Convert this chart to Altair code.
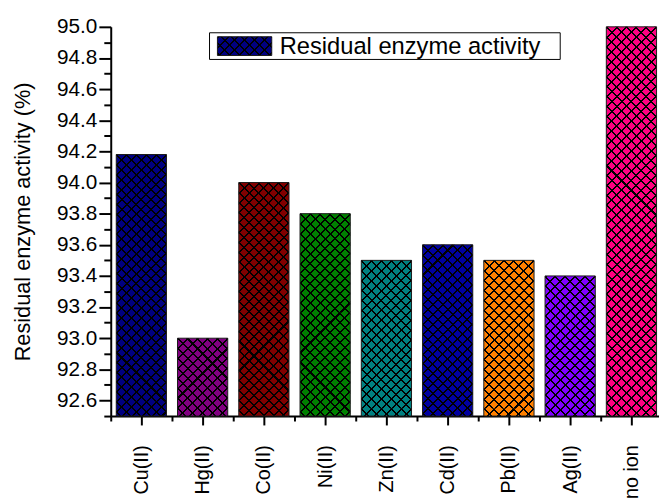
import json
import math

import altair as alt
import pandas as pd

# ---------------- data ----------------
categories = ["Cu(II)", "Hg(II)", "Co(II)", "Ni(II)", "Zn(II)", "Cd(II)", "Pb(II)", "Ag(II)", "no ion"]
activity = [94.18, 93.0, 94.0, 93.8, 93.5, 93.6, 93.5, 93.4, 95.0]
bar_colors = ["#000080", "#800080", "#800000", "#008000", "#008080",
              "#0000A0", "#FF8000", "#8000FF", "#FF0080"]
y_tick_values = [92.5, 92.6, 92.7, 92.8, 92.9, 93.0, 93.1, 93.2, 93.3, 93.4, 93.5,
                 93.6, 93.7, 93.8, 93.9, 94.0, 94.1, 94.2, 94.3, 94.4, 94.5,
                 94.6, 94.7, 94.8, 94.9, 95.0]
x_tick_values = [-0.5, 0, 0.5, 1, 1.5, 2, 2.5, 3, 3.5, 4, 4.5, 5, 5.5, 6, 6.5, 7, 7.5, 8]
y_title = "Residual enzyme activity (%)"
legend_label = ["Residual enzyme activity"]

# ---------------- layout / style ----------------
PLOT_W, PLOT_H = 555, 394
X_DOMAIN = [-0.5, 8.45]
Y_DOMAIN = [92.5, 95.0]
BAR_HALF = 0.41
FONT = "Liberation Sans"
BAR_W_PX = 2 * BAR_HALF * PLOT_W / (X_DOMAIN[1] - X_DOMAIN[0])
PX_PER_UNIT = PLOT_H / (Y_DOMAIN[1] - Y_DOMAIN[0])
HATCH_PERIOD = 10 / math.sqrt(2)   # 10 px horizontal repeat
HATCH_LW = 1.45
CHUNK_PX = 50                      # hatch drawn in 50 px tall tiles (multiple of 10)


def hatch(w, h, direction, period=HATCH_PERIOD, lw=HATCH_LW):
    """Linear gradient (bbox units) producing 45-degree stripes in pixel space."""
    r = h / w
    a = (1 + r) / (1 + r * r)
    if direction == 1:
        x1, y1, x2, y2 = 0, 0, a, a * r
    else:
        x1, y1, x2, y2 = 1, 0, 1 - a, a * r
    n = (w + h) / math.sqrt(2) / period
    f = lw / period
    clear, ink = "rgba(0,0,0,0)", "#000000"
    stops = []
    k = 0
    while k / n < 1:
        t0 = round(k / n, 6)
        t1 = round(min((k + f) / n, 1.0), 6)
        stops += [{"offset": t0, "color": clear}, {"offset": t0, "color": ink},
                  {"offset": t1, "color": ink}, {"offset": t1, "color": clear}]
        k += 1
    return {"gradient": "linear", "x1": x1, "y1": y1, "x2": x2, "y2": y2, "stops": stops}


df = pd.DataFrame({"ion": categories, "activity": activity,
                   "pos": list(range(len(categories)))})

# hatch tiles: split every bar (from its top down) into 50 px tiles + one remainder
chunk_units = CHUNK_PX / PX_PER_UNIT
full_rows, rest_rows = [], []
for i, v in enumerate(activity):
    top = v
    while top - chunk_units >= Y_DOMAIN[0] - 1e-9:
        full_rows.append({"pos": i, "top": top, "bottom": top - chunk_units})
        top -= chunk_units
    if top - Y_DOMAIN[0] > 1e-6:
        rest_rows.append({"pos": i, "top": top, "bottom": Y_DOMAIN[0]})
full_df = pd.DataFrame(full_rows)

x_scale = alt.Scale(domain=X_DOMAIN, nice=False, zero=False)
y_scale = alt.Scale(domain=Y_DOMAIN, nice=False, zero=False)

x_label_expr = ("datum.value % 1 == 0 ? " + json.dumps(categories) +
                "[round(datum.value)] : ''")
x_axis = alt.Axis(
    values=x_tick_values, labelExpr=x_label_expr, title=None, grid=False,
    tickSize={"condition": {"test": "datum.value % 1 == 0", "value": 9}, "value": 5},
    tickWidth=2, tickColor="black", domainWidth=2, domainColor="black",
    labelAngle=270, labelAlign="right", labelBaseline="middle",
    labelFont=FONT, labelFontSize=20, labelColor="black", labelPadding=20,
    labelOverlap=False, labelFlush=False,
)
y_axis = alt.Axis(
    values=y_tick_values,
    labelExpr="round(datum.value * 10) % 2 == 0 ? format(datum.value, '.1f') : ''",
    tickSize={"condition": {"test": "round(datum.value * 10) % 2 == 0", "value": 12}, "value": 7},
    tickWidth=2, tickColor="black", domainWidth=2, domainColor="black", grid=False,
    labelFont=FONT, labelFontSize=21, labelColor="black", labelPadding=2,
    labelOverlap=False, labelFlush=False,
    title=y_title, titleFont=FONT, titleFontSize=22, titleFontWeight="normal",
    titleColor="black", titleX=-89, titleY=PLOT_H / 2, titleAngle=270,
    titleAlign="center", titleBaseline="middle",
)

X_ENC = alt.X("lo:Q", scale=x_scale, axis=x_axis)
CALC = dict(lo=f"datum.pos - {BAR_HALF}", hi=f"datum.pos + {BAR_HALF}")

base = alt.Chart(df).transform_calculate(**CALC)

layers = [
    base.mark_rect().encode(
        x=X_ENC, x2="hi:Q",
        y=alt.Y("activity:Q", scale=y_scale, axis=y_axis), y2=alt.value(PLOT_H),
        fill=alt.Fill("ion:N", scale=alt.Scale(domain=categories, range=bar_colors), legend=None),
    )
]

# full tiles share one gradient per direction
for d in (1, 2):
    layers.append(
        alt.Chart(full_df).transform_calculate(**CALC)
        .mark_rect(fill=hatch(BAR_W_PX, CHUNK_PX, d))
        .encode(x=X_ENC, x2="hi:Q",
                y=alt.Y("top:Q", scale=y_scale, axis=y_axis), y2="bottom:Q")
    )

# remainder tiles at the bottom of each bar
for row in rest_rows:
    h_px = (row["top"] - row["bottom"]) * PX_PER_UNIT
    for d in (1, 2):
        layers.append(
            alt.Chart(pd.DataFrame([row])).transform_calculate(**CALC)
            .mark_rect(fill=hatch(BAR_W_PX, h_px, d))
            .encode(x=X_ENC, x2="hi:Q",
                    y=alt.Y("top:Q", scale=y_scale, axis=y_axis), y2="bottom:Q")
        )

layers.append(
    base.mark_rect(fillOpacity=0, stroke="#1a1a1a", strokeWidth=1).encode(
        x=X_ENC, x2="hi:Q",
        y=alt.Y("activity:Q", scale=y_scale, axis=y_axis), y2=alt.value(PLOT_H))
)

# ---------------- legend (drawn manually) ----------------
leg_df = pd.DataFrame({"label": legend_label})
leg = alt.Chart(leg_df)
layers.append(leg.mark_rect(fill="white", stroke="black", strokeWidth=1).encode(
    x=alt.value(100), x2=alt.value(455), y=alt.value(6), y2=alt.value(33)))
layers.append(leg.mark_rect(fill=bar_colors[0]).encode(
    x=alt.value(108), x2=alt.value(163), y=alt.value(10), y2=alt.value(29)))
for d in (1, 2):
    layers.append(leg.mark_rect(fill=hatch(55, 19, d)).encode(
        x=alt.value(108), x2=alt.value(163), y=alt.value(10), y2=alt.value(29)))
layers.append(leg.mark_rect(fillOpacity=0, stroke="#1a1a1a", strokeWidth=1).encode(
    x=alt.value(108), x2=alt.value(163), y=alt.value(10), y2=alt.value(29)))
layers.append(leg.mark_text(align="left", baseline="middle", font=FONT, fontSize=24,
                            color="black").encode(
    x=alt.value(171), y=alt.value(20), text="label:N"))

chart = alt.layer(*layers).properties(
    width=PLOT_W, height=PLOT_H,
    autosize=alt.AutoSizeParams(type="none"),
    padding={"left": 104, "top": 16, "right": 0, "bottom": 90},
    background="white",
).configure_view(stroke=None)

chart.save("out.html", embed_options={"renderer": "svg", "actions": False})
